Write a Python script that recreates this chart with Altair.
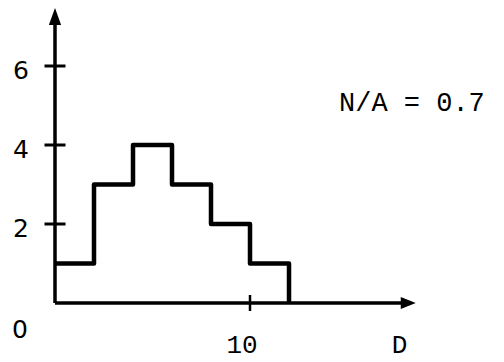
import altair as alt
import pandas as pd

# ---- data ----
bin_edges = [0, 2, 4, 6, 8, 10, 12]
counts = [1, 3, 4, 3, 2, 1]
y_ticks = [2, 4, 6]
y_tick_labels = ["2", "4", "6"]
x_ticks = [10]
x_tick_labels = ["10"]
x_axis_end = 18.5
y_axis_end = 7.47
annotation = "N/A = 0.7"
x_title = "D"
origin_label = "0"

# ---- layout constants (pixels) ----
W, H = 488, 354
PX_X, PX_Y = 19.5, 39.5      # pixels per data unit
X0, Y0 = 47, 295             # svg position of the origin
x_dom = [-X0 / PX_X, (W - X0) / PX_X]
y_dom = [-(H - Y0) / PX_Y, Y0 / PX_Y]

xs = alt.Scale(domain=x_dom, nice=False, zero=False)
ys = alt.Scale(domain=y_dom, nice=False, zero=False)

def X(field="x"):
    return alt.X(f"{field}:Q", scale=xs, axis=None)

def Y(field="y"):
    return alt.Y(f"{field}:Q", scale=ys, axis=None)

# step outline
step_df = pd.DataFrame({"x": bin_edges, "y": counts + [0]})
step = alt.Chart(step_df).mark_line(
    interpolate="step-after", color="black", strokeWidth=4.5, strokeJoin="round"
).encode(x=X(), y=Y())

# axis lines
axes_df = pd.DataFrame({
    "x": [0, 0], "x2": [0, x_axis_end - 0.3],
    "y": [0, 0], "y2": [y_axis_end - 0.3, 0],
})
axes = alt.Chart(axes_df).mark_rule(color="black", strokeWidth=3.5).encode(
    x=X(), x2="x2:Q", y=Y(), y2="y2:Q"
)

# arrow heads
up_df = pd.DataFrame({"x": [0], "y": [y_axis_end]})
up = alt.Chart(up_df).mark_point(
    shape="M0,0L0.36,1L-0.36,1Z", filled=True, color="black", opacity=1, size=1156
).encode(x=X(), y=Y())
right_df = pd.DataFrame({"x": [x_axis_end], "y": [0]})
right = alt.Chart(right_df).mark_point(
    shape="M0,0L-1,0.4L-1,-0.4Z", filled=True, color="black", opacity=1, size=900
).encode(x=X(), y=Y())

# tick marks crossing the axes
half_y = 10.5 / PX_X
ytick_df = pd.DataFrame({"y": y_ticks})
ytick_df["x"] = -half_y
ytick_df["x2"] = half_y
yt = alt.Chart(ytick_df).mark_rule(color="black", strokeWidth=3).encode(
    x=X(), x2="x2:Q", y=Y()
)
half_x = 8 / PX_Y
xtick_df = pd.DataFrame({"x": x_ticks})
xtick_df["y"] = -half_x
xtick_df["y2"] = half_x
xt = alt.Chart(xtick_df).mark_rule(color="black", strokeWidth=2.5).encode(
    x=X(), y=Y(), y2="y2:Q"
)

# y tick labels (sans)
ylab_df = pd.DataFrame({"y": y_ticks, "t": y_tick_labels})
ylab_df["x"] = -34 / PX_X
ylab = alt.Chart(ylab_df).mark_text(
    font="DejaVu Sans", fontSize=25, align="center", baseline="middle", dy=5
).encode(x=X(), y=Y(), text="t:N")

orig_df = pd.DataFrame({"x": [-35 / PX_X], "y": [-27 / PX_Y], "t": [origin_label]})
orig = alt.Chart(orig_df).mark_text(
    font="DejaVu Sans", fontSize=25, align="center", baseline="middle"
).encode(x=X(), y=Y(), text="t:N")

# x tick labels and title (typewriter)
mono = "Courier New, Liberation Mono, monospace"
xlab_df = pd.DataFrame({"x": x_ticks, "t": x_tick_labels})
xlab_df["y"] = -42 / PX_Y
xlab = alt.Chart(xlab_df).mark_text(
    font=mono, fontSize=26, align="center", baseline="middle", dx=-8
).encode(x=X(), y=Y(), text="t:N")

title_df = pd.DataFrame({"x": [(391.5 - X0) / PX_X], "y": [-42 / PX_Y], "t": [x_title]})
title = alt.Chart(title_df).mark_text(
    font=mono, fontSize=26, align="center", baseline="middle"
).encode(x=X(), y=Y(), text="t:N")

ann_df = pd.DataFrame({"x": [(331 - X0) / PX_X], "y": [(Y0 - 95) / PX_Y], "t": [annotation]})
ann = alt.Chart(ann_df).mark_text(
    font=mono, fontSize=27, align="left", baseline="middle"
).encode(x=X(), y=Y(), text="t:N")

chart = alt.layer(
    axes, step, up, right, yt, xt, ylab, orig, xlab, title, ann
).properties(
    width=W, height=H, padding=0, autosize="none", background="white"
).configure_view(stroke=None)

chart.save("out.html", embed_options={"renderer": "svg", "actions": False})
